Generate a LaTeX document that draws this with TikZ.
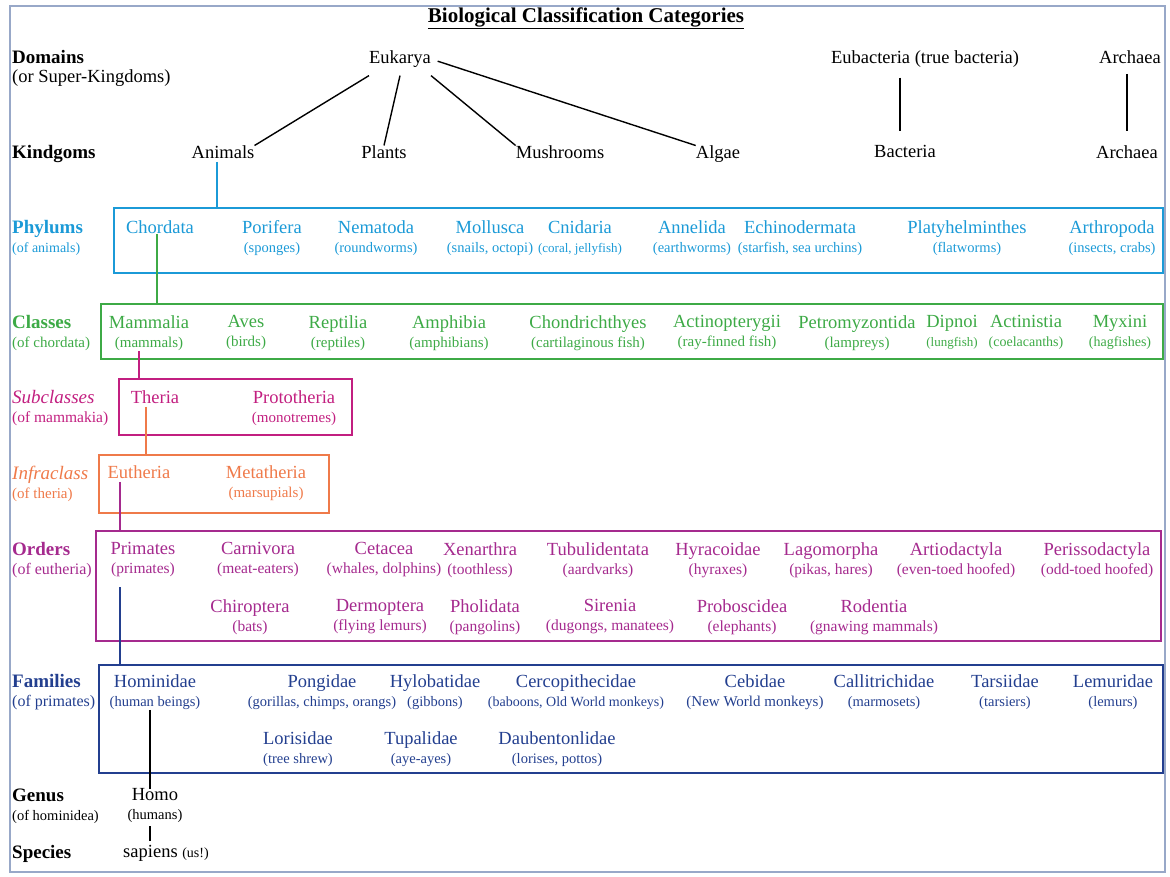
\documentclass[tikz,border=0pt]{standalone}
\usepackage{fontspec}
\setmainfont{Liberation Serif}
\usepackage{tikz}
\usetikzlibrary{positioning}

\definecolor{phylumblue}{HTML}{1B9AD7}
\definecolor{classgreen}{HTML}{3DAA46}
\definecolor{subpink}{HTML}{C21F80}
\definecolor{infraorange}{HTML}{EF7A4A}
\definecolor{orderpurple}{HTML}{A52A8E}
\definecolor{familyblue}{HTML}{233F8F}
\definecolor{framegray}{HTML}{98A8C8}

\newcommand{\common}[2][15]{\\{\fontsize{#1}{19}\selectfont (#2)}}

\begin{document}
\begin{tikzpicture}[x=1pt, y=-1pt,
    taxon/.style={anchor=north, inner sep=0pt, align=center, font=\fontsize{18.5}{19}\selectfont},
    rank/.style={anchor=north west, inner sep=0pt, align=left, font=\fontsize{19}{19}\selectfont},
    group/.style={draw, anchor=north west, inner sep=0pt, line width=2.4pt},
    tie/.style={line width=1.4pt},
    link/.style={line width=2.4pt}]
    \useasboundingbox (0,0) rectangle (1170,877);
    \draw[framegray, line width=1.5pt] (10,6) rectangle (1165,872);

    \node[font=\bfseries\fontsize{21}{21}\selectfont] (title) at (586,18)
        {\underline{Biological Classification Categories}};

    \node[rank] (dom) at (12,50.5) {\textbf{Domains}\common[18.5]{or Super-Kingdoms}};
    \node[rank] (kin) at (12,145.5) {\textbf{Kindgoms}};
    \node[rank, text=phylumblue] (rphy) at (12,220.5) {\textbf{Phylums}\common[14]{of animals}};
    \node[rank, text=classgreen] (rcla) at (12,315.5) {\textbf{Classes}\common[15]{of chordata}};
    \node[rank, text=subpink] (rsub) at (12,390.5) {\textit{Subclasses}\common[15.5]{of mammakia}};
    \node[rank, text=infraorange] (rinf) at (12,465.5) {\textit{Infraclass}\common[15]{of theria}};
    \node[rank, text=orderpurple] (rord) at (12,542.5) {\textbf{Orders}\common[16]{of eutheria}};
    \node[rank, text=familyblue] (rfam) at (12,674.5) {\textbf{Families}\common[16]{of primates}};
    \node[rank] (rgen) at (12,788.5) {\textbf{Genus}\common[14.5]{of hominidea}};
    \node[rank] (rspe) at (12,845.5) {\textbf{Species}};

    \node[taxon, anchor=center, inner ysep=8pt] (euk) at (400,59) {Eukarya};
    \node[taxon] (eub) at (925,50.5) {Eubacteria (true bacteria)};
    \node[taxon] (arc) at (1130,50.5) {Archaea};

    \node[taxon] (ani) at (223,145.5) {Animals};
    \node[taxon] (pla) at (384,145.5) {Plants};
    \node[taxon] (mus) at (560,145.5) {Mushrooms};
    \node[taxon] (alg) at (718,145.5) {Algae};
    \node[taxon] (bac) at (905,145.5) {Bacteria};
    \node[taxon] (ark) at (1127,145.5) {Archaea};

    \node[group, draw=phylumblue, minimum width=1049, minimum height=65] (phyla) at (113,207) {};
    \begin{scope}[every node/.append style={text=phylumblue}]
    \node[taxon] (cho) at (160,220.5) {Chordata};
    \node[taxon] (por) at (272,220.5) {Porifera\common[14.5]{sponges}};
    \node[taxon] (nem) at (376,220.5) {Nematoda\common[14.5]{roundworms}};
    \node[taxon] (mol) at (490,220.5) {Mollusca\common[14.5]{snails, octopi}};
    \node[taxon] (cni) at (580,220.5) {Cnidaria\common[13]{coral, jellyfish}};
    \node[taxon] (ann) at (692,220.5) {Annelida\common[14.5]{earthworms}};
    \node[taxon] (ech) at (800,220.5) {Echinodermata\common[14.5]{starfish, sea urchins}};
    \node[taxon] (plh) at (967,220.5) {Platyhelminthes\common[14.5]{flatworms}};
    \node[taxon] (art) at (1112,220.5) {Arthropoda\common[14.5]{insects, crabs}};
    \end{scope}

    \node[group, draw=classgreen, minimum width=1062, minimum height=55] (clas) at (100,303) {};
    \begin{scope}[every node/.append style={text=classgreen}]
    \node[taxon] (mam) at (149,315.5) {Mammalia\common{mammals}};
    \node[taxon] (ave) at (246,315.5) {Aves\common{birds}};
    \node[taxon] (rep) at (338,315.5) {Reptilia\common{reptiles}};
    \node[taxon] (amp) at (449,315.5) {Amphibia\common{amphibians}};
    \node[taxon] (chn) at (588,315.5) {Chondrichthyes\common{cartilaginous fish}};
    \node[taxon] (act) at (727,315.5) {Actinopterygii\common{ray-finned fish}};
    \node[taxon] (pet) at (857,315.5) {Petromyzontida\common{lampreys}};
    \node[taxon] (dip) at (952,315.5) {Dipnoi\common[13]{lungfish}};
    \node[taxon] (acn) at (1026,315.5) {Actinistia\common[14]{coelacanths}};
    \node[taxon] (myx) at (1120,315.5) {Myxini\common[14]{hagfishes}};
    \end{scope}

    \node[group, draw=subpink, minimum width=233, minimum height=56] (subc) at (118,378) {};
    \node[taxon, text=subpink] (the) at (155,390.5) {Theria};
    \node[taxon, text=subpink] (pro) at (294,390.5) {Prototheria\common{monotremes}};

    \node[group, draw=infraorange, minimum width=230, minimum height=58] (infr) at (98,454) {};
    \node[taxon, text=infraorange] (eut) at (139,465.5) {Eutheria};
    \node[taxon, text=infraorange] (met) at (266,465.5) {Metatheria\common{marsupials}};

    \node[group, draw=orderpurple, minimum width=1065, minimum height=110] (ordr) at (95,530) {};
    \begin{scope}[every node/.append style={text=orderpurple}]
    \node[taxon] (pri) at (143,542.5) {Primates\common[15.5]{primates}};
    \node[taxon] (car) at (258,542.5) {Carnivora\common[15.5]{meat-eaters}};
    \node[taxon] (cet) at (384,542.5) {Cetacea\common[15.5]{whales, dolphins}};
    \node[taxon] (xen) at (480,542.5) {Xenarthra\common[15.5]{toothless}};
    \node[taxon] (tub) at (598,542.5) {Tubulidentata\common[15.5]{aardvarks}};
    \node[taxon] (hyr) at (718,542.5) {Hyracoidae\common[15.5]{hyraxes}};
    \node[taxon] (lag) at (831,542.5) {Lagomorpha\common[15.5]{pikas, hares}};
    \node[taxon] (atd) at (956,542.5) {Artiodactyla\common[15.5]{even-toed hoofed}};
    \node[taxon] (per) at (1097,542.5) {Perissodactyla\common[15.5]{odd-toed hoofed}};

    \node[taxon] (chi) at (250,599.5) {Chiroptera\common[15.5]{bats}};
    \node[taxon] (der) at (380,599.5) {Dermoptera\common[15.5]{flying lemurs}};
    \node[taxon] (pho) at (485,599.5) {Pholidata\common[15.5]{pangolins}};
    \node[taxon] (sir) at (610,599.5) {Sirenia\common[15.5]{dugongs, manatees}};
    \node[taxon] (prb) at (742,599.5) {Proboscidea\common[15.5]{elephants}};
    \node[taxon] (rod) at (874,599.5) {Rodentia\common[15.5]{gnawing mammals}};
    \end{scope}

    \node[group, draw=familyblue, minimum width=1064, minimum height=108] (fami) at (98,664) {};
    \begin{scope}[every node/.append style={text=familyblue}]
    \node[taxon] (hom) at (155,674.5) {Hominidae\common[14.5]{human beings}};
    \node[taxon] (pon) at (322,674.5) {Pongidae\common[14.5]{gorillas, chimps, orangs}};
    \node[taxon] (hyl) at (435,674.5) {Hylobatidae\common[14.5]{gibbons}};
    \node[taxon] (cer) at (576,674.5) {Cercopithecidae\common[14]{baboons, Old World monkeys}};
    \node[taxon] (ceb) at (755,674.5) {Cebidae\common[15]{New World monkeys}};
    \node[taxon] (cal) at (884,674.5) {Callitrichidae\common[14.5]{marmosets}};
    \node[taxon] (tar) at (1005,674.5) {Tarsiidae\common[14.5]{tarsiers}};
    \node[taxon] (lem) at (1113,674.5) {Lemuridae\common[14.5]{lemurs}};

    \node[taxon] (lor) at (298,731.5) {Lorisidae\common[14.5]{tree shrew}};
    \node[taxon] (tup) at (421,731.5) {Tupalidae\common[14.5]{aye-ayes}};
    \node[taxon] (dau) at (557,731.5) {Daubentonlidae\common[14.5]{lorises, pottos}};
    \end{scope}

    \node[taxon] (homo) at (155,788.5) {Homo\common[14.5]{humans}};
    \node[taxon] (sap) at (166,845.5) {sapiens {\fontsize{14}{19}\selectfont(us!)}};

    \draw[tie] (euk.south west) -- (ani.north east);
    \draw[tie] (euk.south) -- (pla.north);
    \draw[tie] (euk.south east) -- (mus.north west);
    \draw[tie, shorten <=7pt] (euk.east) -- (alg.north west);
    \draw[tie, shorten <=10pt, shorten >=14pt] ([xshift=-5pt]bac.north |- eub.south) -- ([xshift=-5pt]bac.north);
    \draw[tie, shorten <=10pt, shorten >=14pt] (ark.north |- arc.south) -- (ark.north);

    \draw[link, phylumblue, shorten <=3pt] ([xshift=-6pt]ani.south) -- ([xshift=-6pt]ani.south |- phyla.north);
    \draw[link, classgreen] ([xshift=-3pt]cho.south) -- ([xshift=-3pt]cho.south |- clas.north);
    \draw[link, subpink] ([xshift=-10pt]mam.south) -- ([xshift=-10pt]mam.south |- subc.north);
    \draw[link, infraorange, shorten <=3pt] ([xshift=-9pt]the.south) -- ([xshift=-9pt]the.south |- infr.north);
    \draw[link, orderpurple, shorten <=3pt] ([xshift=-19pt]eut.south) -- ([xshift=-19pt]eut.south |- ordr.north);
    \draw[link, familyblue, shorten <=10pt] ([xshift=-23pt]pri.south) -- ([xshift=-23pt]pri.south |- fami.north);
    \draw[tie] ([xshift=-5pt]hom.south) -- ([xshift=-5pt]hom.south |- homo.north);
    \draw[tie, shorten <=3pt, shorten >=5pt] ([xshift=-5pt]homo.south) -- ([xshift=-5pt]homo.south |- sap.north);

\end{tikzpicture}
\end{document}
